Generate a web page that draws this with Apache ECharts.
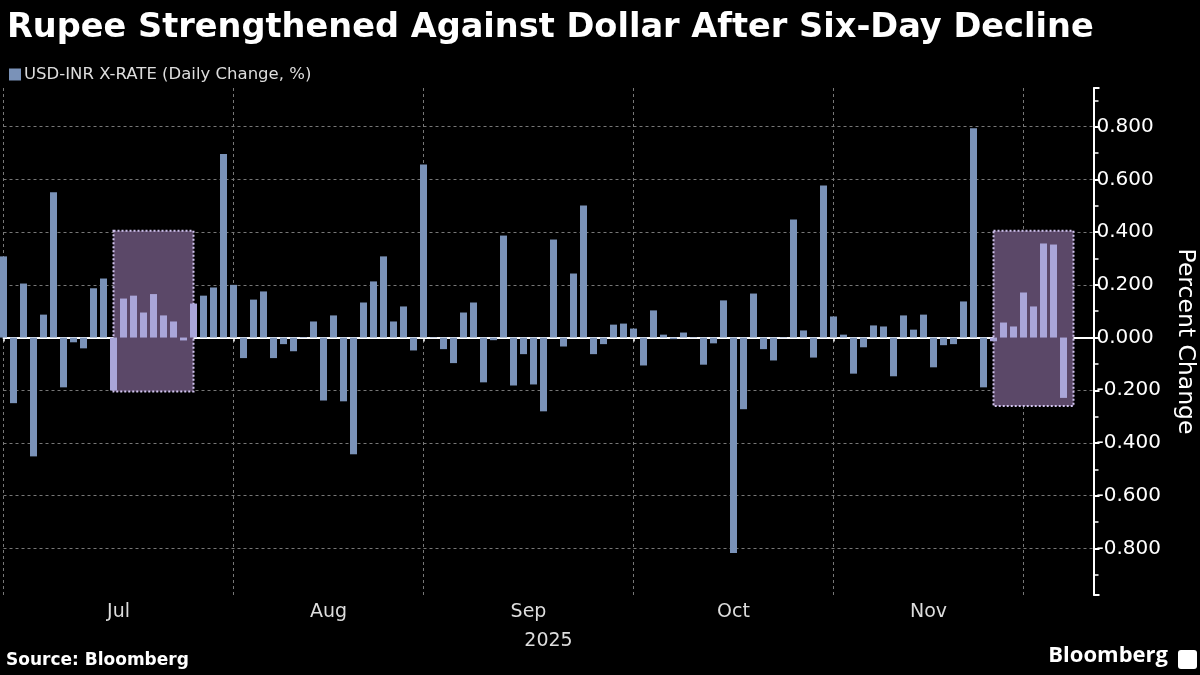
<!DOCTYPE html>
<html>
<head>
<meta charset="utf-8">
<script src="https://cdn.jsdelivr.net/npm/echarts@6/dist/echarts.min.js"></script>
<style>
  html, body { margin: 0; padding: 0; background: #000; }
  #chart { width: 1200px; height: 675px; }
</style>
</head>
<body>
<div id="chart"></div>
<script>
// trading days by month (2025)
const julDays = [1, 2, 3, 4, 7, 8, 9, 10, 11, 14, 15, 16, 17, 18, 21, 22, 23, 24, 25, 28, 29, 30, 31];
const augDays = [1, 4, 5, 6, 7, 8, 11, 12, 13, 14, 18, 19, 20, 21, 22, 25, 26, 28, 29];
const sepDays = [1, 2, 3, 4, 8, 9, 10, 11, 12, 15, 16, 17, 18, 19, 22, 23, 24, 25, 26, 29, 30];
const octDays = [1, 3, 6, 7, 8, 9, 10, 13, 14, 15, 16, 17, 20, 23, 24, 27, 28, 29, 30, 31];
const novDays = [3, 4, 6, 7, 10, 11, 12, 13, 14, 17, 18, 19, 20, 21, 24, 25, 26, 27, 28];
const decDays = [1, 2, 3, 4, 5];
// empty slots after the last bar
const padDays = [8, 9, 10];

// USD-INR daily change, %
const julChg = [0.308, -0.249, 0.205, -0.451, 0.087, 0.551, -0.189, -0.018, -0.041, 0.187, 0.224, -0.201,
  0.148, 0.159, 0.095, 0.165, 0.084, 0.061, -0.011, 0.129, 0.159, 0.190, 0.697];
const augChg = [0.200, -0.078, 0.144, 0.175, -0.078, -0.025, -0.052, 0.002, 0.061, -0.239, 0.084, -0.242,
  -0.443, 0.133, 0.213, 0.308, 0.061, 0.118, -0.049];
const sepChg = [0.657, -0.002, -0.044, -0.097, 0.095, 0.133, -0.170, -0.010, 0.387, -0.182, -0.063, -0.178,
  -0.280, 0.372, -0.034, 0.243, 0.501, -0.063, -0.025, 0.049, 0.053];
const octChg = [0.034, -0.106, 0.103, 0.011, -0.006, 0.019, -0.002, -0.103, -0.022, 0.141, -0.818, -0.272,
  0.167, -0.044, -0.087, -0.002, 0.448, 0.027, -0.076, 0.577];
const novChg = [0.080, 0.011, -0.137, -0.037, 0.046, 0.042, -0.147, 0.084, 0.030, 0.087, -0.113, -0.029,
  -0.025, 0.137, 0.794, -0.189, -0.014, 0.057, 0.042];
const decChg = [0.171, 0.118, 0.357, 0.353, -0.229];

// highlighted windows [start, end, top, bottom]
const boxes = [
  ['2025-07-16', '2025-07-28', 0.405, -0.205],
  ['2025-11-26', '2025-12-08', 0.405, -0.26]
];

const monthNames = ['Jan', 'Feb', 'Mar', 'Apr', 'May', 'Jun', 'Jul', 'Aug', 'Sep', 'Oct', 'Nov', 'Dec'];
const FONT = 'DejaVu Sans';

const pad = n => (n < 10 ? '0' : '') + n;
const mk = (m, days) => days.map(d => '2025-' + pad(m) + '-' + pad(d));

const dates = [].concat(mk(7, julDays), mk(8, augDays), mk(9, sepDays), mk(10, octDays), mk(11, novDays), mk(12, decDays));
const values = [].concat(julChg, augChg, sepChg, octChg, novChg, decChg);
const axisDates = dates.concat(mk(12, padDays));

// first trading day of each month
const monthStart = axisDates.map((d, i) => i < dates.length && (i === 0 || d.slice(5, 7) !== axisDates[i - 1].slice(5, 7)));
const startIdx = monthStart.map((s, i) => (s ? i : -1)).filter(i => i >= 0);
const labelPos = startIdx.slice(0, -1).map((s, k) => (s + startIdx[k + 1]) / 2);

const barColor = '#7a92b8';
const hiColor = '#aaa6d9';

const inBox = d => boxes.some(b => d >= b[0] && d <= b[1]);
const barData = values.map((v, i) => ({
  value: v,
  itemStyle: { color: inBox(dates[i]) ? hiColor : barColor }
}));

const chart = echarts.init(document.getElementById('chart'));

chart.setOption({
  backgroundColor: '#000',
  animation: false,
  textStyle: { fontFamily: FONT },
  title: {
    text: 'Rupee Strengthened Against Dollar After Six-Day Decline',
    left: 2,
    top: 6,
    textStyle: { color: '#fff', fontSize: 33.6, fontWeight: 'bold', fontFamily: FONT }
  },
  legend: {
    left: 4,
    top: 61,
    icon: 'rect',
    itemWidth: 12,
    itemHeight: 12,
    itemGap: 4,
    textStyle: { color: '#ddd', fontSize: 16.5, fontFamily: FONT, padding: [0, 0, 0, -2] },
    data: ['USD-INR X-RATE (Daily Change, %)']
  },
  grid: { left: 3.5, right: 106.5, top: 88, bottom: 80, containLabel: false, outerBoundsMode: 'none' },
  xAxis: [
    {
      type: 'category',
      data: axisDates,
      boundaryGap: false,
      axisLine: { lineStyle: { color: '#fff', width: 2 } },
      axisTick: { interval: i => monthStart[i], length: 4, lineStyle: { color: '#fff', width: 1.5 } },
      axisLabel: { show: false },
      splitLine: { show: true, interval: i => monthStart[i], lineStyle: { color: '#777', type: [3, 3], width: 1 } }
    },
    {
      type: 'value',
      position: 'bottom',
      min: 0,
      max: axisDates.length - 1,
      axisLine: { show: false },
      axisTick: { show: false },
      splitLine: { show: false },
      axisLabel: {
        customValues: labelPos,
        color: '#ddd',
        fontSize: 19,
        fontFamily: FONT,
        margin: 8,
        formatter: v => monthNames[+dates[Math.floor(v)].slice(5, 7) - 1]
      },
      name: '2025',
      nameLocation: 'middle',
      nameGap: 37,
      nameTextStyle: { color: '#ddd', fontSize: 19, fontFamily: FONT }
    }
  ],
  yAxis: {
    type: 'value',
    position: 'right',
    min: -0.977,
    max: 0.947,
    splitNumber: 10,
    axisLine: { show: true, onZero: false, lineStyle: { color: '#fff', width: 2 } },
    axisTick: { show: true, length: 6, lineStyle: { color: '#fff', width: 2 } },
    minorTick: { show: true, splitNumber: 2, length: 5, lineStyle: { color: '#fff', width: 1.5 } },
    axisLabel: {
      color: '#fff',
      fontSize: 20,
      fontFamily: FONT,
      margin: 3,
      showMinLabel: false,
      showMaxLabel: false,
      formatter: v => v.toFixed(3)
    },
    splitLine: { show: true, showMinLine: false, showMaxLine: false, lineStyle: { color: '#777', type: [3, 3], width: 1 } },
    name: 'Percent Change',
    nameLocation: 'middle',
    nameRotate: -90,
    nameGap: 80,
    nameTextStyle: { color: '#fff', fontSize: 23.5, fontFamily: FONT }
  },
  series: [
    {
      // carries the highlight boxes on the index-valued axis
      name: 'windows',
      type: 'line',
      xAxisIndex: 1,
      data: [],
      silent: true,
      markArea: {
        silent: true,
        z: 1,
        itemStyle: { color: '#5b4868', borderColor: '#d2c4ef', borderWidth: 2, borderType: [2, 2] },
        data: boxes.map(b => [
          { xAxis: axisDates.indexOf(b[0]), yAxis: b[2] },
          { xAxis: axisDates.indexOf(b[1]), yAxis: b[3] }
        ])
      }
    },
    {
      name: 'USD-INR X-RATE (Daily Change, %)',
      type: 'bar',
      xAxisIndex: 0,
      barWidth: 7,
      clip: false,
      z: 3,
      itemStyle: { color: barColor },
      data: barData
    }
  ],
  graphic: [
    {
      type: 'text',
      left: 6,
      top: 652,
      style: { text: 'Source: Bloomberg', fill: '#fff', fontSize: 17, fontWeight: 'bold', fontFamily: FONT }
    },
    {
      type: 'text',
      right: 32,
      top: 645,
      style: { text: 'Bloomberg', fill: '#fff', fontSize: 22, fontWeight: 'bold', fontFamily: 'Open Sans' }
    },
    {
      type: 'rect',
      right: 3,
      top: 650,
      shape: { width: 19, height: 19, r: 3 },
      style: { fill: '#fff' }
    }
  ]
});
</script>
</body>
</html>
